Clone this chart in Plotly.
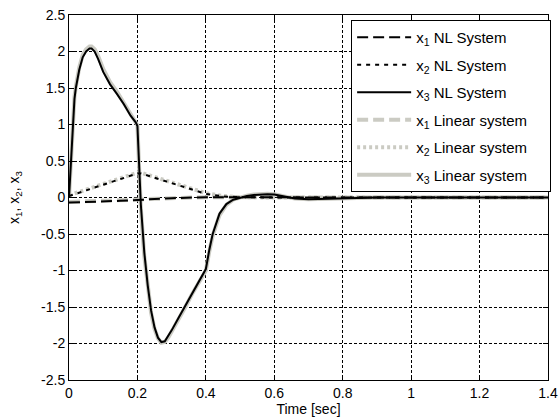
import plotly.graph_objects as go

# ---- data ----
t3 = [0, 0.004, 0.008, 0.012, 0.016, 0.02, 0.03, 0.04, 0.05, 0.06, 0.066, 0.075, 0.085, 0.1,
      0.12, 0.14, 0.16, 0.18, 0.195, 0.2, 0.205, 0.21, 0.22, 0.23, 0.24, 0.25, 0.26, 0.27,
      0.28, 0.29, 0.3, 0.32, 0.34, 0.36, 0.38, 0.4, 0.41, 0.42, 0.44, 0.46, 0.48, 0.5,
      0.52, 0.54, 0.56, 0.58, 0.6, 0.62, 0.64, 0.66, 0.7, 0.74, 0.78, 0.82, 0.9, 1.0, 1.2, 1.4]
x3_nl = [0.0, 0.35, 0.8, 1.1, 1.35, 1.5, 1.75, 1.92, 2.0, 2.04, 2.04, 2.0, 1.9, 1.72,
         1.55, 1.42, 1.28, 1.12, 1.03, 0.98, 0.45, -0.1, -0.75, -1.2, -1.55, -1.78, -1.92, -1.98,
         -1.97, -1.9, -1.82, -1.65, -1.48, -1.3, -1.15, -0.98, -0.72, -0.5, -0.22, -0.09, -0.03, 0.0,
         0.02, 0.035, 0.045, 0.045, 0.04, 0.02, 0.0, -0.015, -0.025, -0.02, -0.01, 0.0, 0.0, 0.0, 0.0, 0.0]
x3_lin = [0.0, 0.4, 0.85, 1.15, 1.38, 1.52, 1.78, 1.95, 2.03, 2.07, 2.07, 2.03, 1.94, 1.76,
          1.58, 1.45, 1.3, 1.14, 1.04, 0.99, 0.4, -0.15, -0.8, -1.25, -1.58, -1.8, -1.93, -1.99,
          -1.98, -1.92, -1.84, -1.67, -1.5, -1.32, -1.17, -1.0, -0.74, -0.52, -0.24, -0.1, -0.03, 0.0,
          0.025, 0.04, 0.05, 0.05, 0.045, 0.025, 0.0, -0.015, -0.025, -0.02, -0.01, 0.0, 0.0, 0.0, 0.0, 0.0]

t12 = [0, 0.05, 0.1, 0.15, 0.2, 0.21, 0.25, 0.3, 0.35, 0.4, 0.45, 0.5, 0.6, 0.8, 1.0, 1.2, 1.4]
x1_nl = [-0.07, -0.065, -0.055, -0.045, -0.035, -0.03, -0.02, -0.01, 0.0, 0.005, 0.005, 0.003, 0.0, 0.0, 0.0, 0.0, 0.0]
x1_lin = [-0.06, -0.055, -0.048, -0.04, -0.032, -0.028, -0.018, -0.008, 0.0, 0.005, 0.005, 0.003, 0.0, 0.0, 0.0, 0.0, 0.0]
x2_nl = [0.02, 0.1, 0.18, 0.26, 0.33, 0.33, 0.27, 0.2, 0.12, 0.05, 0.015, 0.005, 0.0, 0.0, 0.0, 0.0, 0.0]
x2_lin = [0.03, 0.11, 0.19, 0.27, 0.34, 0.34, 0.28, 0.21, 0.13, 0.06, 0.02, 0.005, 0.0, 0.0, 0.0, 0.0, 0.0]

names = ["x<sub>1</sub> NL System", "x<sub>2</sub> NL System", "x<sub>3</sub> NL System",
         "x<sub>1</sub> Linear system", "x<sub>2</sub> Linear system", "x<sub>3</sub> Linear system"]

xticks = [0, 0.2, 0.4, 0.6, 0.8, 1.0, 1.2, 1.4]
xticktext = ["0", "0.2", "0.4", "0.6", "0.8", "1", "1.2", "1.4"]
yticks = [-2.5, -2, -1.5, -1, -0.5, 0, 0.5, 1, 1.5, 2, 2.5]
yticktext = ["-2.5", "-2", "-1.5", "-1", "-0.5", "0", "0.5", "1", "1.5", "2", "2.5"]

GRAY = "#cbcbc3"
PAD = "\u2003\u2009"  # right padding inside legend box
fig = go.Figure()

# linear system drawn first (underneath), legend ranks after NL
lin_specs = [(t12, x1_lin, "11px,5px"), (t12, x2_lin, "3px,3px"), (t3, x3_lin, "solid")]
for i, (tx, ty, d) in enumerate(lin_specs):
    fig.add_trace(go.Scatter(x=tx, y=ty, mode="lines", name=names[3 + i] + PAD,
                             line=dict(color=GRAY, width=4, dash=d),
                             legendrank=4 + i, legendgroup="g%d" % (4 + i)))
nl_specs = [(t12, x1_nl, "11px,5px"), (t12, x2_nl, "4px,5px"), (t3, x3_nl, "solid")]
for i, (tx, ty, d) in enumerate(nl_specs):
    fig.add_trace(go.Scatter(x=tx, y=ty, mode="lines", name=names[i],
                             line=dict(color="black", width=2, dash=d),
                             legendrank=1 + i, legendgroup="g%d" % (1 + i)))

axis_common = dict(showline=True, linecolor="black", linewidth=1, mirror="ticks",
                   ticks="inside", ticklen=5, tickcolor="black",
                   showgrid=True, gridcolor="black", gridwidth=1, griddash="3px,2px",
                   zeroline=False, ticklabeloverflow="allow", automargin=False,
                   tickfont=dict(size=14, color="black"))

fig.update_layout(
    width=559, height=420,
    margin=dict(l=69, r=8, t=15, b=40),
    paper_bgcolor="white", plot_bgcolor="white",
    font=dict(family="Liberation Sans, Arial, sans-serif", size=14, color="black"),
    xaxis=dict(range=[0, 1.40001], tickvals=xticks, ticktext=xticktext,
               title=dict(text="Time [sec]", standoff=4, font=dict(size=14)), **axis_common),
    yaxis=dict(range=[-2.5, 2.5], tickvals=yticks, ticktext=yticktext,
               title=dict(text="x<sub>1</sub>, x<sub>2</sub>, x<sub>3</sub>", standoff=18,
                          font=dict(size=14)), **axis_common),
    legend=dict(x=0.589, y=0.986, xanchor="left", yanchor="top",
                bgcolor="white", bordercolor="black", borderwidth=1,
                font=dict(size=15), itemwidth=54, tracegroupgap=5,
                traceorder="grouped"),
    showlegend=True,
)

fig.write_html("out.html")
